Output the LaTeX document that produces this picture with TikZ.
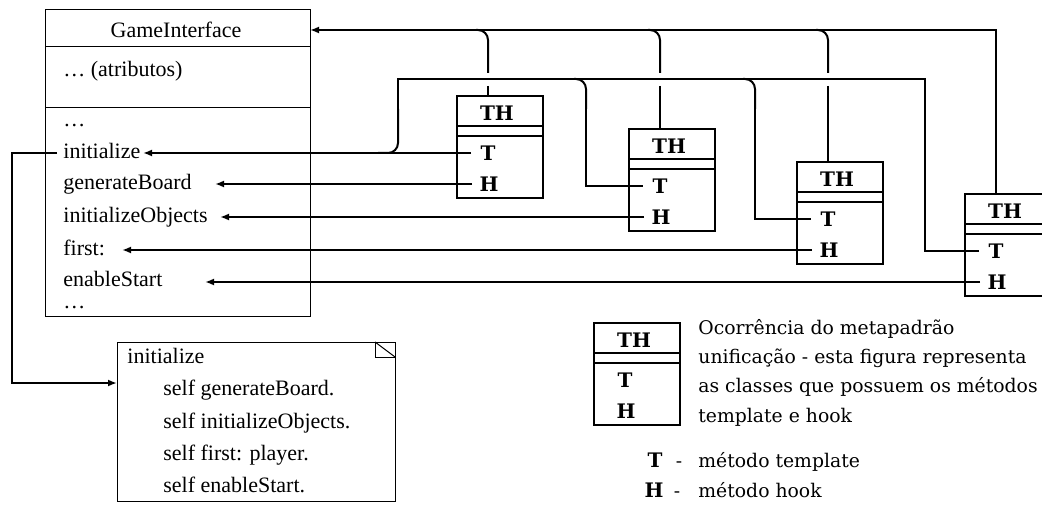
\documentclass[tikz,border=0pt]{standalone}
\usepackage{fontspec}
\setmainfont{Liberation Serif}
\newfontfamily\thfont{DejaVu Serif}
\usetikzlibrary{arrows.meta,calc}
\tikzset{
  >={Latex[length=4.5pt,width=3.5pt]},
  link/.style={draw=black,line width=1pt},
  arrowlink/.style={link,->},
  umlbox/.style={draw=black,line width=.5pt},
  thbox/.style={draw=black,line width=1pt,minimum width=43pt,minimum height=51pt,inner sep=0pt},
  thline/.style={draw=black,line width=1pt},
  member/.style={font=\fontsize{11}{13}\selectfont,inner sep=3pt,text height=8pt,text depth=2.5pt,anchor=west},
  thlabel/.style={font=\thfont\bfseries\fontsize{10}{12}\selectfont,inner sep=0pt,text height=7.3pt,text depth=0pt},
  legendtext/.style={font=\thfont\fontsize{9.4}{11}\selectfont,inner sep=0pt,anchor=base west},
}
\begin{document}
\begin{tikzpicture}[x=0.5pt,y=-0.5pt]
  \useasboundingbox (0,0) rectangle (1042,507);
  \clip (0,0) rectangle (1042,507);

  % GameInterface class
  \node[umlbox,minimum width=132.5pt,minimum height=153.5pt,inner sep=0pt,anchor=north west] (gi) at (45,9) {};
  \draw[umlbox] (45,47) -- (310,47);
  \draw[umlbox] (45,108) -- (310,108);
  \node[member,anchor=center] (giname) at (176,32) {GameInterface};
  \node[member] (giattr) at (57,71.5) {\ldots{} (atributos)};
  \node[member] (gidots) at (57,121.5) {\ldots};
  \node[member] (mInit) at (57,153) {initialize};
  \node[member] (mBoard) at (57,184) {generateBoard};
  \node[member] (mObj) at (57,217) {initializeObjects};
  \node[member] (mFirst) at (57,250) {first:};
  \node[member,inner ysep=0pt] (mStart) at (57,281) {enableStart};
  \node[member,text height=2pt,inner ysep=0pt,anchor=base west] (gidotsb) at (57,308) {\ldots};

  % note with the template method
  \node[umlbox,minimum width=139pt,minimum height=79.5pt,inner sep=0pt,anchor=north west] (note) at (117,342) {};
  \draw[umlbox] (375,342) -- (375,357) -- (395,357);
  \draw[umlbox] (375,342) -- (395,357);
  \node[member] (nInit) at (121,357.5) {initialize};
  \node[member] (nBoard) at (157,389.5) {self generateBoard.};
  \node[member] (nObj) at (157,422.5) {self initializeObjects.};
  \node[member] (nFirst) at (157,454.5) {self first: player.};
  \node[member] (nStart) at (157,486.5) {self enableStart.};

  % TH classes (L = legend)
  \foreach \n/\x/\y in {1/456/95,2/628/128,3/796/161,4/964/193,L/593/322}{
    \node[thbox,anchor=north west] (th\n) at (\x,\y) {};
    \draw[thline] (\x,\y+31) -- (\x+86,\y+31);
    \draw[thline] (\x,\y+41) -- (\x+86,\y+41);
    \node[thlabel] (thname\n) at (\x+41,\y+18) {TH};
    \node[thlabel] (thT\n) at (\x+32,\y+58) {T};
    \node[thlabel] (thH\n) at (\x+33,\y+89) {H};
    \coordinate (thtop\n) at (\x+32,\y);
    \coordinate (pinT\n) at (\x+15,\y+58);
    \coordinate (pinH\n) at (\x+16,\y+89);
  }

  % connectors
  \coordinate (giIn) at (310,30);
  \coordinate (gapA) at (0,73);
  \coordinate (gapB) at (0,86);
  \draw[arrowlink] (thtop4) |- (giIn);
  \foreach \n in {1,2,3}{
    \draw[link,rounded corners=5pt] ($(thtop\n |- giIn)+(-12,0)$) -- (thtop\n |- giIn) -- (thtop\n |- gapA);
    \draw[link] (thtop\n |- gapB) -- (thtop\n);
  }

  \coordinate (busL) at (398,79);
  \coordinate (busR) at (925,79);
  \draw[link] (pinT4) -| (busR) -- (busL) -- ($(busL)+(0,30)$);
  \draw[link,rounded corners=5pt] ($(busL)+(0,30)$) -- (busL |- pinT1) -- ($(busL |- pinT1)+(-20,0)$);
  \coordinate (drop2) at (586,79);
  \coordinate (drop3) at (755,79);
  \foreach \n in {2,3}{
    \draw[link,rounded corners=5pt] ($(drop\n)+(-12,0)$) -- (drop\n) -- ($(drop\n)+(0,30)$);
    \draw[link] ($(drop\n)+(0,30)$) -- (drop\n |- pinT\n) -- (pinT\n);
  }

  \coordinate (tipInit) at (143,153);
  \coordinate (tipBoard) at (215,184);
  \coordinate (tipObj) at (220,217);
  \coordinate (tipFirst) at (122,250);
  \coordinate (tipStart) at (205,282);
  \draw[arrowlink] (pinT1) -- (tipInit);
  \draw[arrowlink] (pinH1) -- (tipBoard);
  \draw[arrowlink] (pinH2) -- (tipObj);
  \draw[arrowlink] (pinH3) -- (tipFirst);
  \draw[arrowlink] (pinH4) -- (tipStart);

  \coordinate (bendL) at (12,153);
  \coordinate (noteIn) at (117,383);
  \draw[arrowlink] (mInit.west) -- (bendL) |- (noteIn);

  % legend
  \node[legendtext] (leg1) at (698,334) {Ocorrência do metapadrão};
  \node[legendtext] (leg2) at (698,363.3) {unificação - esta figura representa};
  \node[legendtext] (leg3) at (698,392.6) {as classes que possuem os métodos};
  \node[legendtext] (leg4) at (698,422) {template e hook};
  \node[thlabel,anchor=base] (keyT) at (655,467) {T};
  \node[legendtext,anchor=base] (keyTdash) at (679,467) {-};
  \node[legendtext] (keyTtext) at (698,467) {método template};
  \node[thlabel,anchor=base] (keyH) at (654,497) {H};
  \node[legendtext,anchor=base] (keyHdash) at (677,497) {-};
  \node[legendtext] (keyHtext) at (698,497) {método hook};
\end{tikzpicture}
\end{document}
